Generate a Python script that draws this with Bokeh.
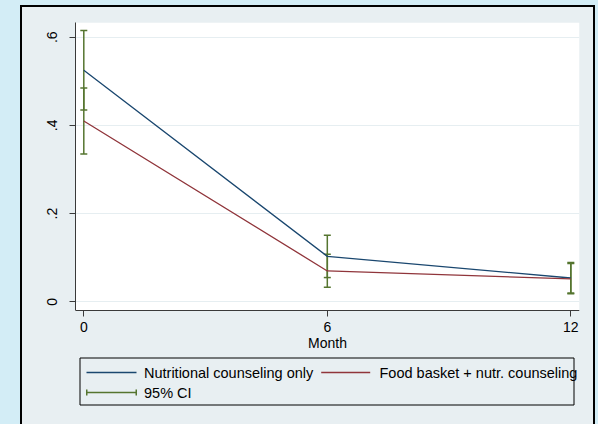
from bokeh.plotting import figure
from bokeh.models import (Range1d, Whisker, TeeHead, ColumnDataSource, BoxAnnotation,
                          Label, FixedTicker, CustomJSTickFormatter, GlobalInlineStyleSheet)
from bokeh.embed import file_html
from bokeh.resources import INLINE

# ---------------- data ----------------
months = [0, 6, 12]
nutr_only = [0.525, 0.103, 0.054]
nutr_only_lo = [0.435, 0.055, 0.020]
nutr_only_hi = [0.615, 0.151, 0.089]
basket = [0.410, 0.070, 0.052]
basket_lo = [0.335, 0.033, 0.018]
basket_hi = [0.485, 0.108, 0.087]
x_ticks = [0, 6, 12]
y_ticks = [0, 0.2, 0.4, 0.6]
series_names = ["Nutritional counseling only", "Food basket + nutr. counseling"]
ci_name = "95% CI"
x_label = "Month"

# ---------------- style ----------------
BLUE = "#1A476F"
RED = "#90353B"
GREEN = "#55752F"
CYAN = "#D3EDF6"
BOXBG = "#E8EFF2"
GRID = "#E6EEF1"
AXIS = "#3a3a3a"
FONT = "Liberation Sans"

css = f"""
html, body {{ margin: 0; }}
html {{
  background:
    linear-gradient(#000, #000) no-repeat 20px 5px / 575px 2px,
    linear-gradient(#000, #000) no-repeat 20px 5px / 2px 100%,
    linear-gradient(#000, #000) no-repeat 593px 5px / 2px 100%,
    linear-gradient({BOXBG}, {BOXBG}) no-repeat 22px 7px / 571px 100%,
    {CYAN};
}}
body {{ background: transparent; }}
"""

# frame covers plot area + legend area; plot area bottom is at y = Y_AXIS_AT
Y_TOP = 0.6333
Y_AXIS_AT = -0.0197
Y_FRAME_BOTTOM = -0.2419

p = figure(width=582, height=408, output_backend="svg", toolbar_location=None,
           x_range=Range1d(-0.2045, 12.214), y_range=Range1d(Y_FRAME_BOTTOM, Y_TOP),
           min_border_left=75, min_border_right=3, min_border_top=22, min_border_bottom=0)
p.stylesheets = [GlobalInlineStyleSheet(css=css)]
p.border_fill_color = None
p.background_fill_color = None
p.outline_line_color = None

# white plot area
p.add_layout(BoxAnnotation(bottom=Y_AXIS_AT, fill_color="white", fill_alpha=1,
                           line_color=None, level="image"))

# lines
p.line(months, nutr_only, line_color=BLUE, line_width=1.3)
p.line(months, basket, line_color=RED, line_width=1.3)

# CIs
for lo, hi in ((nutr_only_lo, nutr_only_hi), (basket_lo, basket_hi)):
    src = ColumnDataSource(dict(x=months, lo=lo, hi=hi))
    w = Whisker(source=src, base="x", lower="lo", upper="hi", dimension="height",
                line_color=GREEN, line_width=1.5,
                upper_head=TeeHead(size=7, line_color=GREEN, line_width=1.5),
                lower_head=TeeHead(size=7, line_color=GREEN, line_width=1.5))
    p.add_layout(w)

# axes
p.xaxis.ticker = FixedTicker(ticks=x_ticks)
p.xaxis.fixed_location = Y_AXIS_AT
p.yaxis.ticker = FixedTicker(ticks=y_ticks)
p.yaxis.bounds = (Y_AXIS_AT, Y_TOP)
p.yaxis.formatter = CustomJSTickFormatter(code="""
    if (tick == 0) return "0";
    return tick.toFixed(1).replace(/^0/, "");
""")
p.yaxis.major_label_orientation = "vertical"
for ax in (p.xaxis[0], p.yaxis[0]):
    ax.axis_line_color = AXIS
    ax.axis_line_width = 1
    ax.major_tick_line_color = AXIS
    ax.major_tick_out = 6
    ax.major_tick_in = 0
    ax.minor_tick_line_color = None
    ax.major_label_text_font = FONT
    ax.major_label_text_font_size = "14px"
    ax.major_label_text_color = "black"
p.xaxis.major_label_standoff = 5
p.yaxis.major_label_standoff = 12
p.xaxis.axis_label = x_label
p.xaxis.axis_label_text_font = FONT
p.xaxis.axis_label_text_font_size = "14px"
p.xaxis.axis_label_text_font_style = "normal"
p.xaxis.axis_label_text_color = "black"
p.xaxis.axis_label_standoff = 0

p.xgrid.grid_line_color = None
p.ygrid.grid_line_color = GRID
p.ygrid.grid_line_width = 1

# ---------------- legend (manual, screen units from frame left / frame bottom) ----------------
def sbox(left, right, bottom, top, fill=None, line=None, lw=1):
    b = BoxAnnotation(left=left, right=right, bottom=bottom, top=top,
                      left_units="screen", right_units="screen",
                      bottom_units="screen", top_units="screen",
                      fill_color=fill, fill_alpha=1 if fill else 0,
                      line_color=line, line_width=lw, line_alpha=1 if line else 0,
                      level="overlay")
    p.add_layout(b)

sbox(4.5, 498.5, 3.5, 50.5, fill=None, line="black", lw=1)
row1, row2 = 36, 16
sbox(11, 61, row1 - 0.7, row1 + 0.7, fill=BLUE)
sbox(245.7, 294.7, row1 - 0.7, row1 + 0.7, fill=RED)
sbox(11, 61, row2 - 0.8, row2 + 0.8, fill=GREEN)
sbox(10.5, 12, row2 - 3, row2 + 3, fill=GREEN)
sbox(60, 61.5, row2 - 3, row2 + 3, fill=GREEN)

for txt, x, y in ((series_names[0], 68.5, row1), (series_names[1], 304, row1), (ci_name, 68.5, row2)):
    p.add_layout(Label(x=x, y=y, x_units="screen", y_units="screen", text=txt,
                       text_font=FONT, text_font_size="14.5px", text_color="black",
                       text_baseline="middle", text_align="left"))

open("out.html", "w").write(file_html(p, INLINE))
